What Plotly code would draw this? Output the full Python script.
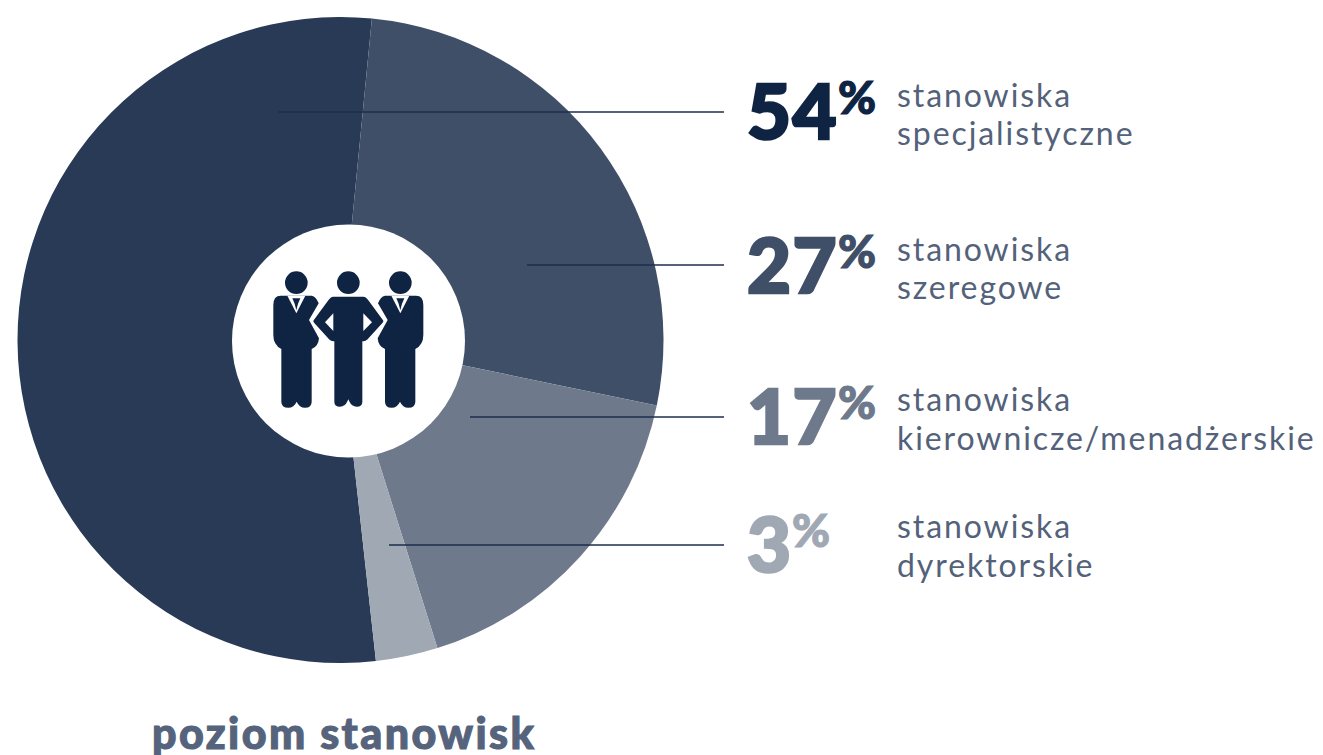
import plotly.graph_objects as go

W, H = 1323, 755
slice_names = ["stanowiska specjalistyczne", "stanowiska szeregowe", "stanowiska kierownicze/menadżerskie", "stanowiska dyrektorskie"]
slice_labels = [54, 27, 17, 3]
slice_shares = [53.3, 26.7, 16.9, 3.1]
slice_colors = ["#293a57", "#404f68", "#6e798c", "#a0a8b4"]
value_colors = ["#0f2343", "#404f68", "#6e798c", "#a0a8b4"]
line1 = ["stanowiska"] * 4
line2 = ["specjalistyczne", "szeregowe", "kierownicze/menadżerskie", "dyrektorskie"]
title = "poziom stanowisk"

# layout positions, in page pixels
row_y = [112, 265, 417, 545]
line_start = [278, 527, 470, 389]
num_baseline = [138, 292, 443, 571]
pct_x = [837.5, 837.5, 837.5, 791.5]
label_base1 = [106, 260, 410, 537]
label_base2 = [144, 298, 449, 576]
CX, CY, R = 340.5, 340, 323
HX, HY, HR = 348.5, 341, 116.5

def px(x): return x / W
def py(y): return 1 - y / H

fig = go.Figure(go.Pie(
    values=slice_shares, labels=slice_names, sort=False, direction="clockwise",
    rotation=173.7, textinfo="none", hoverinfo="label",
    marker=dict(colors=slice_colors, line=dict(width=0)),
    domain=dict(x=[px(CX - R), px(CX + R)], y=[py(CY + R), py(CY - R)]),
    showlegend=False,
))

shapes = []
ann = []

for i in range(4):
    shapes.append(dict(type="line", xref="paper", yref="paper", layer="above",
                       x0=px(line_start[i]), x1=px(724), y0=py(row_y[i]), y1=py(row_y[i]),
                       line=dict(color="#1c2e4c", width=1.3)))
    ann.append(dict(text=str(slice_labels[i]), x=px(747), y=py(num_baseline[i] + 17), xanchor="left", yanchor="bottom",
                    font=dict(family="Lato", size=76, weight=900, color=value_colors[i])))
    ann.append(dict(text="%", x=px(pct_x[i]), y=py(num_baseline[i] - 14), xanchor="left", yanchor="bottom",
                    font=dict(family="Lato", size=46, weight=900, color=value_colors[i])))
    ann.append(dict(text=line1[i], x=px(897), y=py(label_base1[i] + 8), xanchor="left", yanchor="bottom",
                    font=dict(family="Lato", size=32, color="#53627a")))
    ann.append(dict(text=line2[i], x=px(897), y=py(label_base2[i] + 8), xanchor="left", yanchor="bottom",
                    font=dict(family="Lato", size=32, color="#53627a")))

ann.append(dict(text=title, x=px(151.5), y=py(732), xanchor="left", yanchor="middle",
                font=dict(family="Lato", size=43, weight=900, color="#55647c")))
for a in ann:
    a.update(xref="paper", yref="paper", showarrow=False, borderpad=0, borderwidth=0, align="left")

shapes.append(dict(type="circle", xref="paper", yref="paper", layer="above",
                   x0=px(HX - HR), x1=px(HX + HR), y0=py(HY + HR), y1=py(HY - HR),
                   fillcolor="white", line=dict(width=0)))

# people icon, drawn in a 3x local coordinate system
OX, OY = 230, 225
NAVY = "#0f2343"
def P(x, y): return f"{px(OX + x / 3):.5f},{py(OY + y / 3):.5f}"
def path(cmds):
    out = []
    for c in cmds:
        if len(c) == 3: out.append(f"{c[0]} {P(c[1], c[2])}")
        else: out.append(f"{c[0]} {P(c[1], c[2])} {P(c[3], c[4])}")
    return " ".join(out) + " Z"
def add(cmds, color, lw=0, lc="white"):
    shapes.append(dict(type="path", xref="paper", yref="paper", layer="above", path=path(cmds),
                       fillcolor=color, line=dict(width=lw, color=lc)))
def mirror(cmds, c=355):
    return [(k[0], 2 * c - k[1], k[2]) + ((2 * c - k[3], k[4]) if len(k) == 5 else ()) for k in cmds]
def head(cx):
    r = 34
    shapes.append(dict(type="circle", xref="paper", yref="paper", layer="above",
                       x0=px(OX + (cx - r) / 3), x1=px(OX + (cx + r) / 3),
                       y0=py(OY + (173 + r) / 3), y1=py(OY + (173 - r) / 3),
                       fillcolor=NAVY, line=dict(width=0)))

body = [("M", 152, 212), ("L", 245, 212), ("Q", 258, 214, 266, 235), ("L", 237, 285), ("L", 267, 340),
        ("Q", 265, 365, 245, 372), ("L", 245, 530), ("Q", 245, 548, 225, 548), ("Q", 208, 548, 200, 530),
        ("Q", 192, 548, 175, 548), ("Q", 154, 548, 154, 530), ("L", 154, 372), ("Q", 130, 360, 130, 330),
        ("L", 130, 240), ("Q", 130, 212, 152, 212)]
collar = [("M", 172, 212), ("L", 199, 265), ("L", 226, 212)]
tie = [("M", 187, 220), ("L", 211, 220), ("L", 204, 236), ("L", 199, 256), ("L", 194, 236)]
mid = [("M", 310, 212), ("L", 400, 212), ("Q", 410, 212, 418, 225), ("L", 462, 285), ("Q", 465, 290, 460, 295),
       ("L", 415, 345), ("Q", 408, 352, 400, 352), ("L", 400, 530), ("Q", 400, 548, 380, 548), ("Q", 363, 548, 355, 530),
       ("Q", 347, 548, 330, 548), ("Q", 310, 548, 310, 530), ("L", 310, 352), ("Q", 302, 352, 295, 345), ("L", 250, 295),
       ("Q", 245, 290, 248, 285), ("L", 292, 225), ("Q", 300, 212, 310, 212)]
for cmds in (body, mirror(body)):
    add(cmds, NAVY)
for cmds in (collar, mirror(collar)):
    add(cmds, "white")
for cmds in (tie, mirror(tie)):
    add(cmds, NAVY)
add(mid, NAVY, lw=2)
add([("M", 310, 265), ("L", 285, 292), ("L", 310, 318)], "white")
add([("M", 400, 265), ("L", 426, 292), ("L", 400, 318)], "white")
for cx in (199, 355, 511):
    head(cx)

fig.update_layout(width=W, height=H, margin=dict(l=0, r=0, t=0, b=0), paper_bgcolor="white",
                  plot_bgcolor="white", shapes=shapes, annotations=ann)

restyle_text = """
document.body.style.margin = '0';
document.querySelectorAll('text.annotation-text').forEach(function (t) {
  var s = parseFloat(t.style.fontSize);
  var fill = t.style.fill;
  if (s >= 60) { t.style.stroke = fill; t.style.strokeWidth = '2.6px'; t.style.letterSpacing = '1.5px'; }
  else if (s >= 46) { t.style.stroke = fill; t.style.strokeWidth = '1.2px'; }
  else if (s >= 43) { t.style.stroke = fill; t.style.strokeWidth = '1.1px'; t.style.letterSpacing = '2.4px'; }
  else { t.style.letterSpacing = '1.92px'; }
});
"""
fig.write_html("out.html", config={"displayModeBar": False}, post_script=restyle_text)
